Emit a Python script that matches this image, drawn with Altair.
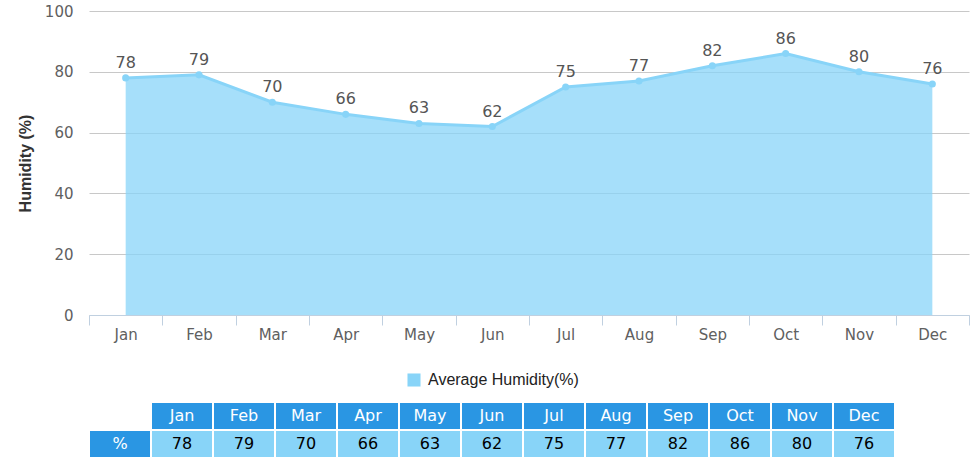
import altair as alt
import pandas as pd

# Monthly average relative humidity
months = ["Jan", "Feb", "Mar", "Apr", "May", "Jun",
          "Jul", "Aug", "Sep", "Oct", "Nov", "Dec"]
humidity = [78, 79, 70, 66, 63, 62, 75, 77, 82, 86, 80, 76]
series_name = "Average Humidity(%)"
row_label = "%"

AREA_BLUE = "#88d4f8"
HEAD_BLUE = "#2a96e3"
AXIS_TEXT = "#606060"

df = pd.DataFrame({"month": months, "humidity": humidity, "series": series_name})

x_enc = alt.X(
    "month:N", sort=months, bandPosition=0.5,
    scale=alt.Scale(type="band", paddingInner=0, paddingOuter=0),
    axis=alt.Axis(title=None, labelAngle=0, tickBand="extent", grid=False,
                  domainColor="#c0d0e0", tickColor="#c0d0e0", tickSize=10,
                  labelFontSize=15, labelFont="DejaVu Sans", labelColor=AXIS_TEXT,
                  labelPadding=2),
)
y_enc = alt.Y(
    "humidity:Q", scale=alt.Scale(domain=[0, 100]),
    axis=alt.Axis(values=[0, 20, 40, 60, 80, 100], title="Humidity (%)",
                  titleFont="Liberation Sans", titleFontWeight="bold",
                  titleFontSize=16, titleColor="#333333", titlePadding=11,
                  domain=False, ticks=False, gridColor="#c8c8c8",
                  labelFontSize=15, labelFont="DejaVu Sans", labelColor=AXIS_TEXT,
                  labelPadding=16),
)

base = alt.Chart(df).encode(x=x_enc, y=y_enc)

area = base.mark_area(opacity=0.75).encode(
    fill=alt.Fill(
        "series:N", scale=alt.Scale(range=[AREA_BLUE]),
        legend=alt.Legend(title=None, orient="none", legendX=317, legendY=361,
                          symbolType="square", symbolSize=170, symbolOpacity=1,
                          symbolStrokeWidth=0, labelFont="Liberation Sans",
                          labelFontSize=16, labelColor="#222222", labelOffset=6),
    )
)
line = base.mark_line(color=AREA_BLUE, strokeWidth=3)
points = base.mark_point(filled=True, size=50, color=AREA_BLUE, opacity=1)
labels = base.mark_text(dy=-15, fontSize=16, font="DejaVu Sans", color="#555555").encode(
    text="humidity:Q"
)

top = alt.layer(area, line, points, labels).properties(width=880, height=304)

# Data table below the plot
cols = [row_label] + months
records = []
for m in months:
    records.append({"col": m, "row": "head", "text": m, "kind": "head"})
records.append({"col": row_label, "row": "value", "text": row_label, "kind": "head"})
for m, v in zip(months, humidity):
    records.append({"col": m, "row": "value", "text": str(v), "kind": "cell"})
tdf = pd.DataFrame(records)

tbase = alt.Chart(tdf).encode(
    x=alt.X("col:N", sort=cols, axis=None,
            scale=alt.Scale(paddingInner=2 / 62, paddingOuter=1 / 62)),
    y=alt.Y("row:N", sort=["head", "value"], axis=None,
            scale=alt.Scale(paddingInner=2 / 28, paddingOuter=1 / 28)),
)
cells = tbase.mark_rect().encode(
    color=alt.Color("kind:N", scale=alt.Scale(domain=["head", "cell"],
                                              range=[HEAD_BLUE, AREA_BLUE]),
                    legend=None)
)
cell_text = tbase.mark_text(fontSize=16, font="DejaVu Sans").encode(
    text="text:N",
    color=alt.condition(alt.datum.kind == "head", alt.value("white"), alt.value("black")),
)
table = alt.layer(cells, cell_text).properties(width=806, height=56)

chart = (
    alt.vconcat(top, table, spacing=60)
    .properties(padding={"left": 17, "top": 4, "right": 0, "bottom": 0})
    .configure_view(stroke=None)
)

chart.save("out.html", embed_options={"renderer": "svg", "actions": False})
